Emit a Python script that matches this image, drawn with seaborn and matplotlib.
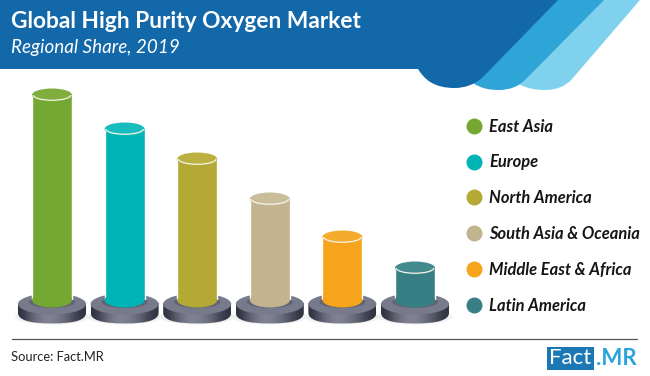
import numpy as np
import pandas as pd
import matplotlib
matplotlib.use("Agg")
import matplotlib.pyplot as plt
from matplotlib.patches import Ellipse, PathPatch, Rectangle, Arc
from matplotlib.path import Path
from matplotlib.lines import Line2D
import seaborn as sns

regions = ["East Asia", "Europe", "North America", "South Asia & Oceania", "Middle East & Africa", "Latin America"]
shares = [205, 171, 141, 101, 63, 32]
colors = ["#74a833", "#00b3b5", "#b5a935", "#c1b48e", "#f5a41b", "#377f84"]
tops = ["#7fae3f", "#17bcbe", "#bcb040", "#c9bd9a", "#f6ab2c", "#428a8e"]

sns.set_theme(style="white")
plt.rcParams["font.family"] = ["Lato", "DejaVu Sans"]

W, H = 650, 376
fig = plt.figure(figsize=(W / 100, H / 100), dpi=100, facecolor="white")
bg = fig.add_axes([0, 0, 1, 1])
bg.set_xlim(0, W)
bg.set_ylim(H, 0)
bg.axis("off")


def band(verts, color, z):
    codes = [Path.MOVETO, Path.LINETO, Path.LINETO, Path.CURVE3, Path.CURVE3,
             Path.CURVE4, Path.CURVE4, Path.CURVE4, Path.CLOSEPOLY]
    bg.add_patch(PathPatch(Path(verts + [verts[0]], codes), fc=color, ec="none", zorder=z))


band([(560, 0), (640, 0), (572, 79), (562, 90), (546, 90), (526, 90), (518, 84), (510, 78)], "#7fd1ee", 1)
band([(520, 0), (604, 0), (526, 79), (516, 90), (499, 90), (481, 90), (474, 84), (466, 78)], "#2fa5d7", 2)
dark = [(0, 0), (558, 0), (482, 78), (470, 88), (455, 88), (434, 88), (425, 80), (418, 69), (0, 69), (0, 0)]
dark_codes = [Path.MOVETO, Path.LINETO, Path.LINETO, Path.CURVE3, Path.CURVE3,
              Path.CURVE4, Path.CURVE4, Path.CURVE4, Path.LINETO, Path.CLOSEPOLY]
bg.add_patch(PathPatch(Path(dark, dark_codes), fc="#1268a8", ec="none", zorder=3))

bg.text(11, 22, "Global High Purity Oxygen Market", color="white", fontsize=16.4,
        fontweight="bold", va="center", ha="left", zorder=5)
bg.text(11, 47, "Regional Share, 2019", color="white", fontsize=13.6,
        fontstyle="italic", va="center", ha="left", zorder=5)

# bar axes: one value unit = one pixel, baseline at y=300
spacing = 72.6
cx0 = 52
left = cx0 - spacing / 2
ax_w = spacing * len(regions)
base_y, ax_top = 300, 80
ax = fig.add_axes([left / W, 1 - base_y / H, ax_w / W, (base_y - ax_top) / H])
df = pd.DataFrame({"region": regions, "share": shares})
bar_w = 40 / spacing
sns.barplot(data=df, x="region", y="share", hue="region", palette=colors, hue_order=regions,
            order=regions, dodge=False, width=bar_w, saturation=1, legend=False, ax=ax, zorder=3)
ax.set_xlim(-0.5, len(regions) - 0.5)
ax.set_ylim(0, base_y - ax_top)
ax.axis("off")
ax.patch.set_alpha(0)
for i, (v, c, t) in enumerate(zip(shares, colors, tops)):
    ax.add_patch(Ellipse((i, 0), bar_w, 15, fc=c, ec="none", zorder=3, clip_on=False))
    ax.add_patch(Ellipse((i, v), bar_w, 13, fc=t, ec="none", zorder=4, clip_on=False))
    ax.add_patch(Arc((i, v), bar_w * 0.94, 10.5, theta1=180, theta2=360, ec="#f4f4e6", lw=0.9, zorder=5, clip_on=False))

# pedestals
grad = np.array([[0.0, 0.45, 0.75, 0.9, 0.8, 0.6, 0.3, 0.0]])
cmap = matplotlib.colors.LinearSegmentedColormap.from_list("d", ["#2f3240", "#8d8f9e"])
for i in range(len(regions)):
    cx = cx0 + spacing * i
    for g, a in ((78, 0.03), (72, 0.05)):
        bg.add_patch(Ellipse((cx, 317), g, 15, fc="#555555", alpha=a, ec="none", zorder=1))
    side = Path([(cx - 34, 303), (cx - 34, 313), (cx - 34, 323.5), (cx, 323.5), (cx + 34, 323.5),
                 (cx + 34, 313), (cx + 34, 303), (cx - 34, 303)],
                [Path.MOVETO, Path.LINETO, Path.CURVE3, Path.CURVE3, Path.CURVE3, Path.CURVE3,
                 Path.LINETO, Path.CLOSEPOLY])
    im = bg.imshow(grad, cmap=cmap, extent=(cx - 34, cx + 34, 326, 300), aspect="auto",
                   interpolation="bicubic", zorder=2, vmin=0, vmax=1)
    im.set_clip_path(PathPatch(side, transform=bg.transData))
    bg.add_patch(Ellipse((cx, 304), 68, 21, fc="#777a8a", ec="none", zorder=2.5))
    bg.add_patch(Ellipse((cx, 302), 46, 12, fc="#4a4a58", alpha=0.45, ec="none", zorder=2.6))
bg.set_xlim(0, W)
bg.set_ylim(H, 0)

handles = [Line2D([], [], marker="o", ls="none", ms=11.5, mfc=c, mec="none") for c in colors]
bg.legend(handles, regions, loc="upper left", bbox_to_anchor=(457 / W, 1 - 118.5 / H), frameon=False,
          prop={"size": 11.9, "style": "italic", "weight": "bold", "family": "Lato"},
          labelspacing=1.2, handletextpad=-0.04, borderpad=0, borderaxespad=0, labelcolor="#151515")

bg.add_line(Line2D([12, 637], [339, 339], color="#555555", lw=0.9, zorder=2))
bg.text(11, 357, "Source: Fact.MR", color="#222222", fontsize=9.3, va="center", ha="left")
bg.add_patch(Rectangle((547, 347), 47, 23, fc="#1b78b4", ec="none", zorder=2))
bg.text(570.5, 358.5, "Fact", color="white", fontsize=16, va="center", ha="center", zorder=3)
bg.text(596, 358.5, ".MR", color="#2ba4dc", fontsize=16, fontweight="bold", va="center", ha="left", zorder=3)

fig.savefig("out.png", dpi=100)
